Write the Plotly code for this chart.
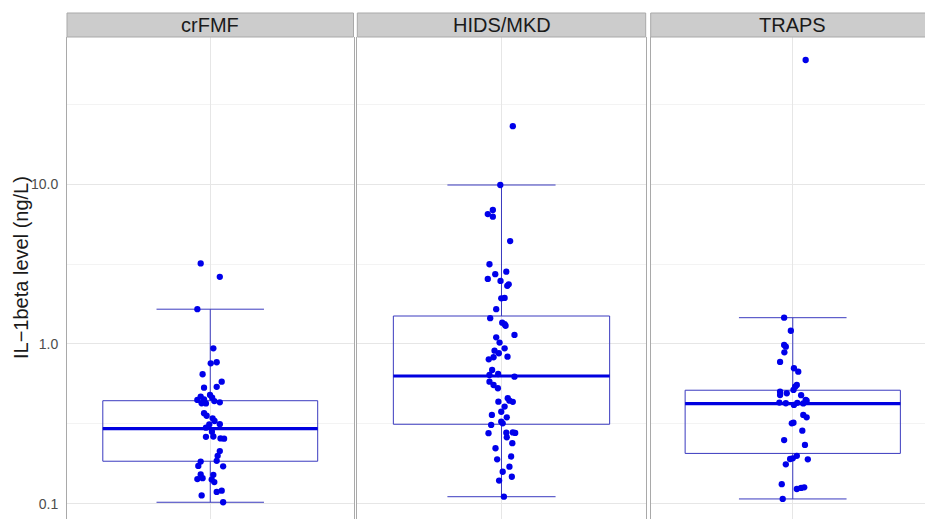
import plotly.graph_objects as go

# ---------------- data ----------------
panels = ["crFMF", "HIDS/MKD", "TRAPS"]

crfmf_values = [3.19, 2.63, 1.65, 0.94, 0.757, 0.769, 0.647, 0.581, 0.533, 0.54,
                0.447, 0.469, 0.45, 0.48, 0.462, 0.44, 0.432, 0.426, 0.425, 0.369,
                0.356, 0.343, 0.330, 0.315, 0.314, 0.300, 0.283, 0.263, 0.264, 0.257,
                0.256, 0.214, 0.200, 0.184, 0.186, 0.173, 0.172, 0.153, 0.152, 0.143,
                0.145, 0.142, 0.137, 0.119, 0.121, 0.113, 0.1025]
crfmf_jitter = [-0.040, 0.040, -0.054, 0.013, 0.002, 0.027, -0.032, 0.048, -0.026, 0.027,
                -0.054, -0.040, -0.026, -0.001, 0.008, 0.017, 0.040, -0.036, -0.018, -0.026,
                -0.015, 0.010, 0.018, 0.040, -0.004, -0.018, 0.007, -0.018, 0.013, 0.043,
                0.058, 0.040, 0.031, -0.040, 0.027, -0.050, 0.054, -0.040, 0.013, -0.054,
                -0.032, 0.006, 0.017, 0.027, 0.048, -0.036, 0.054]

hids_values = [23.0, 9.86, 6.49, 6.88, 6.25, 4.40, 3.15, 2.83, 2.73, 2.55,
               2.48, 2.31, 2.36, 1.93, 1.94, 1.65, 1.45, 1.36, 1.30, 1.33,
               1.14, 1.10, 1.02, 0.908, 0.940, 0.802, 0.826, 0.875, 0.833, 0.688,
               0.640, 0.649, 0.625, 0.581, 0.554, 0.529, 0.436, 0.458, 0.435, 0.442,
               0.377, 0.406, 0.360, 0.348, 0.312, 0.327, 0.319, 0.277, 0.279, 0.280,
               0.278, 0.261, 0.240, 0.223, 0.198, 0.190, 0.171, 0.159, 0.148, 0.140,
               0.111]
hids_jitter = [0.047, -0.005, -0.057, -0.036, -0.036, 0.036, -0.050, 0.020, -0.026, -0.057,
               -0.004, 0.024, 0.030, -0.001, 0.013, -0.022, -0.047, 0.003, 0.017, 0.013,
               0.054, -0.022, -0.008, -0.029, 0.013, -0.053, -0.033, -0.011, 0.025, -0.039,
               -0.050, -0.014, 0.054, -0.050, -0.033, -0.015, -0.013, 0.026, 0.047, 0.033,
               -0.001, 0.013, -0.040, 0.022, -0.043, -0.001, 0.005, -0.054, 0.020, 0.047,
               0.057, 0.022, 0.045, -0.025, 0.040, -0.018, 0.033, 0.005, 0.043, -0.010,
               0.010]

traps_values = [59.6, 1.46, 1.21, 0.986, 0.962, 0.887, 0.772, 0.705, 0.671, 0.541,
                0.554, 0.503, 0.480, 0.492, 0.516, 0.479, 0.430, 0.426, 0.416, 0.429,
                0.447, 0.425, 0.442, 0.360, 0.348, 0.322, 0.319, 0.287, 0.251, 0.234,
                0.200, 0.193, 0.191, 0.190, 0.177, 0.133, 0.124, 0.126, 0.127, 0.1075]
traps_jitter = [0.054, -0.036, -0.008, -0.036, -0.029, -0.035, -0.053, 0.005, 0.023, 0.010,
                0.017, -0.053, -0.053, -0.025, 0.003, 0.035, -0.056, -0.029, 0.005, 0.019,
                0.054, 0.044, 0.058, 0.044, 0.058, 0.003, -0.004, 0.040, -0.036, 0.051,
                0.017, 0.000, -0.011, 0.063, -0.029, -0.046, 0.017, 0.035, 0.048, -0.042]

# box statistics (Q1, median, Q3, lower whisker, upper whisker)
box_q1 = [0.185, 0.315, 0.207]
box_median = [0.296, 0.631, 0.424]
box_q3 = [0.442, 1.496, 0.514]
box_lower = [0.1025, 0.111, 0.1075]
box_upper = [1.65, 9.86, 1.46]

all_values = [crfmf_values, hids_values, traps_values]
all_jitter = [crfmf_jitter, hids_jitter, traps_jitter]

y_ticks = [0.1, 1, 10]
y_tick_labels = ["0.1", "1.0", "10.0"]
y_minor = [10 ** -0.5, 10 ** 0.5, 10 ** 1.5]
y_title = "IL\u22121beta level (ng/L)"

# ---------------- styling / layout ----------------
W, H = 925, 519
ML, MT = 67, 37
PW = W - ML
PH = H - MT
domains = [[0, 286.5 / PW], [290.3 / PW, 578.7 / PW], [583.7 / PW, 1.0]]
xranges = [[0.4, 1.6], [0.4, 1.6], [0.406, 1.553]]
strip_centers = [(210.25 - ML) / PW, (501.5 - ML) / PW, (792.7 - ML) / PW]
BOX_W = 0.9
BOX_LINE = "#3a3abf"
MED_COL = "#0000e0"
PT_COL = "#0000ea"
BORDER = "#a9a9a9"
GRID = "#e6e6e6"
GRID_MINOR = "#f3f3f3"

fig = go.Figure()
for i in range(3):
    xa = "x" if i == 0 else f"x{i+1}"
    ya = "y" if i == 0 else f"y{i+1}"
    fig.add_trace(go.Box(
        x=[1], q1=[box_q1[i]], median=[box_median[i]], q3=[box_q3[i]],
        lowerfence=[box_lower[i]], upperfence=[box_upper[i]],
        width=BOX_W, whiskerwidth=0.5, boxpoints=False,
        line=dict(color=BOX_LINE, width=1), fillcolor="rgba(0,0,0,0)",
        xaxis=xa, yaxis=ya, showlegend=False, hoverinfo="skip"))
    fig.add_trace(go.Scatter(
        x=[1 - BOX_W / 2, 1 + BOX_W / 2], y=[box_median[i], box_median[i]],
        mode="lines", line=dict(color=MED_COL, width=3.2),
        xaxis=xa, yaxis=ya, showlegend=False, hoverinfo="skip"))
    fig.add_trace(go.Scatter(
        x=[1 + j for j in all_jitter[i]], y=all_values[i],
        mode="markers", marker=dict(color=PT_COL, size=6.3, line=dict(width=0)),
        xaxis=xa, yaxis=ya, showlegend=False, hoverinfo="skip"))

layout = dict(
    template="none",
    width=W, height=H,
    margin=dict(l=ML, r=0, t=MT, b=0, pad=0, autoexpand=False),
    paper_bgcolor="white", plot_bgcolor="white",
    font=dict(family="Liberation Sans, Arial, sans-serif"),
    showlegend=False,
)
ymin, ymax = -1.094, 1.919
for i in range(3):
    sx = "" if i == 0 else str(i + 1)
    layout["xaxis" + sx] = dict(
        domain=domains[i], range=xranges[i], anchor="y" + sx,
        tickvals=[1], showticklabels=False, ticks="",
        showgrid=True, gridcolor=GRID, gridwidth=1, zeroline=False,
        showline=False, automargin=False)
    layout["yaxis" + sx] = dict(
        type="log", range=[ymin, ymax], anchor="x" + sx,
        tickvals=y_ticks, ticktext=y_tick_labels,
        showticklabels=(i == 0), ticks="outside", ticklen=5,
        tickcolor="rgba(0,0,0,0)",
        tickfont=dict(size=14, color="#4d4d4d"),
        showgrid=True, gridcolor=GRID, gridwidth=1, zeroline=False,
        minor=dict(tickvals=y_minor, showgrid=True, gridcolor=GRID_MINOR,
                   gridwidth=1, ticks=""),
        showline=True, linecolor=BORDER, linewidth=1,
        mirror=(i < 2), automargin=False)
fig.update_layout(**layout)

# facet strips
strip_top = (H - 13) / PH
for i in range(3):
    fig.add_shape(type="rect", xref="paper", yref="paper",
                  x0=domains[i][0], x1=domains[i][1] + (0.01 if i == 2 else 0),
                  y0=1.0, y1=strip_top,
                  fillcolor="#cccccc", line=dict(color=BORDER, width=1), layer="above")
    fig.add_annotation(text=panels[i], xref="paper", yref="paper",
                       x=strip_centers[i], y=(1.0 + strip_top) / 2, showarrow=False,
                       font=dict(size=20, color="#1a1a1a"),
                       xanchor="center", yanchor="middle")

fig.add_annotation(text=y_title, xref="paper", yref="paper",
                   x=(21 - ML) / PW, y=(H - 268) / PH, textangle=-90,
                   showarrow=False, font=dict(size=20, color="#1a1a1a"),
                   xanchor="center", yanchor="middle")

fig.write_html("out.html",
               config={"displayModeBar": False, "staticPlot": True},
               post_script="document.body.style.margin='0';document.body.style.overflow='hidden';")
